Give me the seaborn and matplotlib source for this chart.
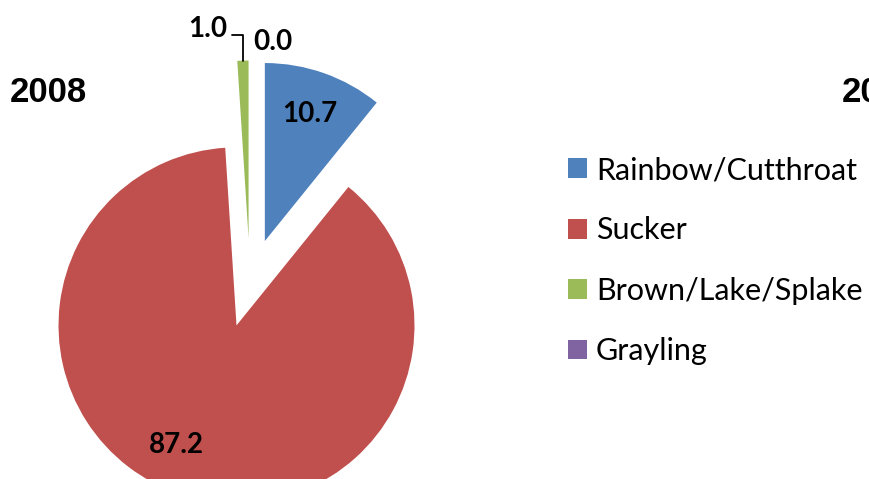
import numpy as np
import seaborn as sns
import matplotlib.pyplot as plt
from matplotlib.patches import Patch

# Data (percent of catch, 2008)
species = ['Rainbow/Cutthroat', 'Sucker', 'Brown/Lake/Splake', 'Grayling']
pct_2008 = [10.7, 87.2, 1.0, 0.0]
colors = ['#4F81BD', '#C0504D', '#9BBB59', '#8064A2']

sns.set_theme(style='white')
plt.rcParams['font.family'] = ['Lato', 'DejaVu Sans']
plt.rcParams['text.color'] = 'black'

W, H = 870, 479
R = 178.0  # pie radius in px, 1 data unit = R px


def px(x, y):
    # pixel coords (top-left origin) -> data coords
    return x / R, (H - y) / R


fig = plt.figure(figsize=(W / 100, H / 100), dpi=100)
ax = fig.add_axes([0, 0, 1, 1])

wedges, _ = ax.pie(pct_2008, colors=sns.color_palette(colors), startangle=90,
                   counterclock=False, explode=[0.25] * 4, center=px(250, 283),
                   radius=1, wedgeprops=dict(linewidth=0))
ax.set_xlim(0, W / R)
ax.set_ylim(0, H / R)
ax.axis('off')

# inside labels
label_dist = [0.76, 0.75]
label_shift = [0, -9]
for i in range(2):
    w = wedges[i]
    th = np.deg2rad((w.theta1 + w.theta2) / 2 + label_shift[i])
    x = w.center[0] + label_dist[i] * np.cos(th)
    y = w.center[1] + label_dist[i] * np.sin(th)
    ax.text(x, y, f'{pct_2008[i]:.1f}', ha='center', va='center',
            fontsize=20, fontweight='bold', color='black')

# outside labels for the thin slices, with leader line
g = wedges[2]
thg = np.deg2rad((g.theta1 + g.theta2) / 2)
gx = g.center[0] + np.cos(thg)
gy = g.center[1] + np.sin(thg)
ax.plot([gx, gx, gx - 11 / R], [gy, gy + 26 / R, gy + 26 / R], color='black', lw=1.3)
ax.text(gx - 16 / R, gy + 32 / R, f'{pct_2008[2]:.1f}', ha='right', va='center',
        fontsize=20, fontweight='bold', color='black')
ax.text(gx + 10 / R, gy + 19 / R, f'{pct_2008[3]:.1f}', ha='left', va='center',
        fontsize=20, fontweight='bold', color='black')

# titles (second chart's title is cut off by the right edge in the source)
fig.text(10 / W, 1 - 102 / H, '2008', ha='left', va='baseline', fontsize=25,
         fontweight='bold', color='black', family=['Liberation Sans', 'DejaVu Sans'])
fig.text(842 / W, 1 - 102 / H, '2009', ha='left', va='baseline', fontsize=25,
         fontweight='bold', color='black', family=['Liberation Sans', 'DejaVu Sans'])

handles = [Patch(facecolor=c, edgecolor='none') for c in colors]
fig.legend(handles, species, loc='upper left', bbox_to_anchor=(568 / W, 1 - 156 / H),
           frameon=False, fontsize=22, handlelength=0.62, handleheight=0.62,
           handletextpad=0.3, labelspacing=1.06, borderpad=0, borderaxespad=0,
           labelcolor='black')

fig.savefig('out.png', dpi=100)
